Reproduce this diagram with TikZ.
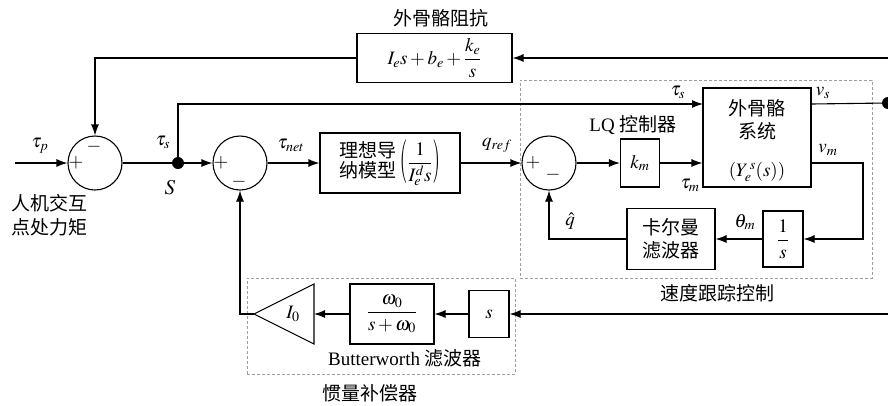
\documentclass[tikz,border=0pt]{standalone}
\usepackage{amsmath}
\usepackage{graphicx}
\usepackage{mathptmx}
\usepackage[no-math]{fontspec}
\setmainfont{Liberation Serif}
\newfontfamily\cjk{Noto Sans CJK SC}
\usetikzlibrary{arrows.meta,calc}
\newcommand{\bigparL}{\raisebox{-5pt}{\scalebox{1}[2.3]{$($}}}
\newcommand{\bigparR}{\raisebox{-5pt}{\scalebox{1}[2.3]{$)$}}}
\tikzset{
  ln/.style={line width=1.1pt},
  arr/.style={ln,-{Latex[length=11pt,width=8pt]}},
  blk/.style={draw,line width=1.1pt,inner sep=2pt},
  sumc/.style={draw,circle,line width=1.1pt,minimum size=54pt,inner sep=0pt},
  dbox/.style={draw=gray!75,line width=0.6pt,dash pattern=on 3pt off 2pt,inner sep=0pt},
  lab/.style={inner sep=0pt},
  jdot/.style={circle,fill,minimum size=12pt,inner sep=0pt}
}
\begin{document}
\begin{tikzpicture}[x=1pt,y=-1pt,font=\fontsize{19}{23}\selectfont]
\useasboundingbox (0,0) rectangle (888,405);
% dashed groups
\node[dbox,minimum width=352pt,minimum height=198pt] (speed) at (696,179) {};
\node[dbox,minimum width=268pt,minimum height=96pt] (comp) at (381,326) {};
% summing junctions
\node[sumc] (s1) at (95,163) {};
\node[sumc] (s2) at (240,163) {};
\node[sumc] (s3) at (549,163) {};
% blocks
\node[blk,minimum width=155pt,minimum height=49pt] (imp) at (434.5,58) {$I_e s+b_e+\dfrac{k_e}{s}$};
\node[blk,minimum width=140pt,minimum height=60pt,inner sep=1pt] (ideal) at (390,163)
  {\begin{tabular}{@{}c@{}}\cjk 理想导\\[-3pt]\cjk 纳模型\end{tabular}\hspace{3pt}\bigparL$\dfrac{1}{I_e^d s}$\bigparR};
\node[blk,minimum width=39pt,minimum height=48pt] (km) at (640,163) {$k_m$};
\node[blk,minimum width=108pt,minimum height=99pt] (exo) at (757,137.5) {};
\node[lab] (exo1) at (757,108) {\cjk 外骨骼};
\node[lab] (exo2) at (757,131) {\cjk 系统};
\node[lab] (exo3) at (757,172) {$(Y_e^{\,s}(s))$};
\node[blk,minimum width=40pt,minimum height=56pt] (ints) at (783,239) {$\dfrac{1}{s}$};
\node[blk,minimum width=88pt,minimum height=61pt,align=center,font=\cjk\fontsize{19}{23}\selectfont] (kal) at (671,239) {卡尔曼\\滤波器};
\node[blk,minimum width=40pt,minimum height=47pt] (sbox) at (489,314) {$s$};
\node[blk,minimum width=84pt,minimum height=60pt] (filt) at (392,314) {$\dfrac{\omega_0}{s+\omega_0}$};
% gain triangle
\coordinate (triB) at (314,314);
\coordinate (triA) at (254,314);
\draw[ln] (314,284) -- (triA) -- (314,344) -- cycle;
\node[lab] (i0) at (293,314) {$I_0$};
% junction dots and free ends
\node[jdot] (dot) at (178,163) {};
\node[jdot] (vsdot) at (888,103) {};
\coordinate (in) at (15,163);
\coordinate (rtop) at (888,58);
\coordinate (rbot) at (888,314);
\coordinate (tsin) at (703,104);
\coordinate (vmc) at (863,163);
% connectors
\draw[arr] (rtop) -- (imp.east);
\draw[arr] (imp.west) -| (s1.north);
\draw[arr] (in) -- (s1.west);
\draw[ln] (s1.east) -- (dot);
\draw[arr] (dot) -- (s2.west);
\draw[arr] (dot.center) |- (tsin);
\draw[arr] (s2.east) -- (ideal.west);
\draw[arr] (ideal.east) -- (s3.west);
\draw[arr] (s3.east) -- (km.west);
\draw[arr] (km.east) -- (km.east -| exo.west);
\draw[ln] (exo.east |- tsin) -- (vsdot);
\draw[arr] (exo.east |- km.east) -- (vmc) |- (ints.east);
\draw[arr] (ints.west) -- (ints.west -| kal.east);
\draw[arr] (kal.west) -| (s3.south);
\draw[arr] (rbot) -- (sbox.east);
\draw[arr] (sbox.west) -- (filt.east);
\draw[arr] (filt.west) -- (triB);
\draw[arr] (triA) -| (s2.south);
% signs
\node[lab] (p1) at (76,163) {$+$};
\node[lab] (m1) at (94,147) {$-$};
\node[lab] (p2) at (221,163) {$+$};
\node[lab] (m2) at (239,182) {$-$};
\node[lab] (p3) at (533,163) {$+$};
\node[lab] (m3) at (553,175) {$-$};
% labels
\node[lab] (ltp) at (40,146) {$\tau_p$};
\node[lab] (lts) at (163,142) {$\tau_s$};
\node[lab] (lS) at (170,188) {\fontsize{21}{23}\selectfont$S$};
\node[lab] (ltnet) at (291,145) {$\tau_{net}$};
\node[lab] (lqref) at (497,145) {$q_{ref}$};
\node[lab] (lqhat) at (570,221) {$\hat{q}$};
\node[lab] (lLQ) at (633,125) {LQ {\cjk 控制器}};
\node[lab] (lts2) at (678,92) {$\tau_s$};
\node[lab] (ltm) at (690,185) {$\tau_m$};
\node[lab] (lvs) at (823,93) {$v_s$};
\node[lab] (lvm) at (828,150) {$v_m$};
\node[lab] (lth) at (745,222) {$\theta_m$};
\node[lab] (limp) at (441,18) {\cjk 外骨骼阻抗};
\node[lab,align=center,font=\cjk\fontsize{19}{24}\selectfont] (lhum) at (49,215) {人机交互\\点处力矩};
\node[lab] (lspeed) at (717,293) {\cjk 速度跟踪控制};
\node[lab] (lbw) at (405,358) {Butterworth {\cjk 滤波器}};
\node[lab] (lcomp) at (370,393) {\cjk 惯量补偿器};
\end{tikzpicture}
\end{document}
